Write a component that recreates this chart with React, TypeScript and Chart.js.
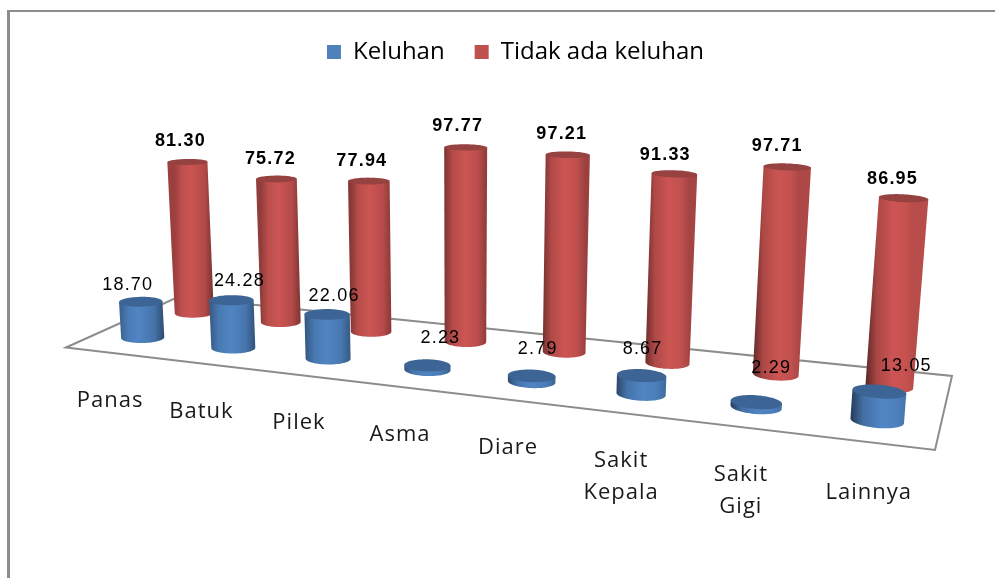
import React, { useEffect, useRef } from "react";
import { Chart, registerables } from "chart.js";

Chart.register(...registerables);

const categories = [["Panas"], ["Batuk"], ["Pilek"], ["Asma"], ["Diare"], ["Sakit", "Kepala"], ["Sakit", "Gigi"], ["Lainnya"]];
const keluhan = [18.7, 24.28, 22.06, 2.23, 2.79, 8.67, 2.29, 13.05];
const tidakAdaKeluhan = [81.3, 75.72, 77.94, 97.77, 97.21, 91.33, 97.71, 86.95];

// label placement relative to each cylinder's top, in pixels
const blueLabelDx = [-13, 8, 7, 13, 6, 1, 15, 27];
const blueLabelDy = [-17, -19, -18, -27, -27, -26, -34, -25];
const redLabelDx = [-7, -6, -7, -8, -6, -9, -10, -11];
const redLabelDy = [-21, -20, -20, -21, -21, -19, -21, -19];
// fine placement of the category labels, in pixels
const categoryDx = [-4, -6, -6, -7, -6, -5, -3, 1];
const categoryDy = [5, 4, 2, 0, -1, -3, -4, -3];

// floor quad in the picture: front-left, front-right, back-right, back-left
const FLOOR = [[66, 347.5], [935, 450], [952, 376], [178, 297]];
const VERT_VP = [458, 6080];
const VERT_S = -0.00034;

function homography() {
  const [[x0, y0], [x1, y1], [x2, y2], [x3, y3]] = FLOOR;
  const dx1 = x1 - x2, dx2 = x3 - x2, sx = x0 - x1 + x2 - x3;
  const dy1 = y1 - y2, dy2 = y3 - y2, sy = y0 - y1 + y2 - y3;
  const den = dx1 * dy2 - dx2 * dy1;
  const g = (sx * dy2 - dx2 * sy) / den;
  const h = (dx1 * sy - sx * dy1) / den;
  return {
    a: x1 - x0 + g * x1, b: x3 - x0 + h * x3, c: x0,
    d: y1 - y0 + g * y1, e: y3 - y0 + h * y3, f: y0,
    g, h,
  };
}
const H = homography();

function project(u: number, d: number, v: number): [number, number] {
  const w = H.g * u + H.h * d + 1 + v * VERT_S;
  const X = H.a * u + H.b * d + H.c + v * VERT_S * VERT_VP[0];
  const Y = H.d * u + H.e * d + H.f + v * VERT_S * VERT_VP[1];
  return [X / w, Y / w];
}

const lerp = (a: number, b: number, t: number) => a + (b - a) * t;
const shade = (c: number[], k: number) => `rgb(${Math.round(c[0] * k)},${Math.round(c[1] * k)},${Math.round(c[2] * k)})`;

const N = 72;
function cylinder(ctx: CanvasRenderingContext2D, u: number, d: number, v: number, ru: number, rd: number, rgb: number[], cap: string) {
  const ring = (h: number) => {
    const pts: [number, number][] = [];
    for (let i = 0; i < N; i++) {
      const t = (i / N) * Math.PI * 2;
      pts.push(project(u + ru * Math.cos(t), d + rd * Math.sin(t), h));
    }
    return pts;
  };
  const bot = ring(0);
  const top = ring(v);
  const extreme = (pts: [number, number][], sign: number) => {
    let best = 0;
    pts.forEach((p, i) => { if (sign * p[0] > sign * pts[best][0]) best = i; });
    return best;
  };
  const iL = extreme(bot, -1);
  const iR = extreme(bot, 1);
  const tL = extreme(top, -1);
  const tR = extreme(top, 1);
  const kL = lerp(0.78, 0.42, u);
  const kR = lerp(0.55, 0.92, u);
  const peak = lerp(0.4, 0.6, u);
  const grad = ctx.createLinearGradient(bot[iL][0], 0, bot[iR][0], 0);
  grad.addColorStop(0, shade(rgb, kL));
  grad.addColorStop(peak * 0.4, shade(rgb, lerp(kL, 1, 0.7)));
  grad.addColorStop(peak, shade(rgb, 1));
  grad.addColorStop(peak + (1 - peak) * 0.6, shade(rgb, lerp(1, kR, 0.3)));
  grad.addColorStop(1, shade(rgb, kR));
  ctx.beginPath();
  ctx.moveTo(top[tL][0], top[tL][1]);
  ctx.lineTo(bot[iL][0], bot[iL][1]);
  for (let i = iL; i !== iR; i = (i + 1) % N) ctx.lineTo(bot[i][0], bot[i][1]);
  ctx.lineTo(bot[iR][0], bot[iR][1]);
  ctx.lineTo(top[tR][0], top[tR][1]);
  ctx.closePath();
  ctx.fillStyle = grad;
  ctx.fill();
  ctx.beginPath();
  top.forEach((p, i) => (i ? ctx.lineTo(p[0], p[1]) : ctx.moveTo(p[0], p[1])));
  ctx.closePath();
  ctx.fillStyle = cap;
  ctx.fill();
  return project(u, d, v);
}

const RED = [204, 85, 83];
const BLUE = [80, 133, 196];
const RED_D = 0.75, BLUE_D = 0.27;

const scene = {
  id: "scene",
  beforeDatasetsDraw(chart: any) {
    const ctx: CanvasRenderingContext2D = chart.ctx;
    const area = chart.chartArea;
    ctx.save();
    // outer frame
    ctx.fillStyle = "#8c8c8c";
    ctx.fillRect(7, 10, 3, 568);
    ctx.fillRect(7, 10, 988, 2);
    // floor
    ctx.strokeStyle = "#8c8c8c";
    ctx.fillStyle = "#ffffff";
    ctx.lineWidth = 2;
    ctx.beginPath();
    FLOOR.forEach((p, i) => (i ? ctx.lineTo(p[0], p[1]) : ctx.moveTo(p[0], p[1])));
    ctx.closePath();
    ctx.fill();
    ctx.stroke();

    const metaBlue = chart.getDatasetMeta(0);
    const metaRed = chart.getDatasetMeta(1);
    const params = (el: any) => ({
      u: (el.x - area.left) / area.width,
      v: ((el.base - el.y) / area.height) * 100,
    });
    const labels: [string, number, number, boolean][] = [];
    metaRed.data.forEach((el: any, i: number) => {
      const { u, v } = params(el);
      const t = cylinder(ctx, u, RED_D, v, 0.0255, 0.09, RED, "#954240");
      labels.push([tidakAdaKeluhan[i].toFixed(2), t[0] + redLabelDx[i], t[1] + redLabelDy[i], true]);
    });
    metaBlue.data.forEach((el: any, i: number) => {
      const { u, v } = params(el);
      const t = cylinder(ctx, u, BLUE_D, v, 0.0268, 0.09, BLUE, "#3c6494");
      labels.push([keluhan[i].toFixed(2), t[0] + blueLabelDx[i], t[1] + blueLabelDy[i], false]);
    });
    // category labels hang below the front edge of the floor
    ctx.fillStyle = "#1a1a1a";
    ctx.textAlign = "center";
    ctx.textBaseline = "middle";
    ctx.font = "22px 'Open Sans'";
    (ctx as any).letterSpacing = "1px";
    metaBlue.data.forEach((el: any, i: number) => {
      const { u } = params(el);
      const x = project(u, BLUE_D, 0)[0] - lerp(30, 8, u) + categoryDx[i];
      const y = project(u, 0, 0)[1] + lerp(42, 54, u) + categoryDy[i];
      categories[i].forEach((line, k) => ctx.fillText(line, x, y + k * 32));
    });
    // value labels
    ctx.fillStyle = "#000";
    (ctx as any).letterSpacing = "1.2px";
    labels.forEach(([s, x, y, bold]) => {
      ctx.font = `${bold ? "bold " : ""}18px 'Liberation Sans'`;
      ctx.fillText(s, x, y);
    });
    ctx.restore();
  },
};

export default function App() {
  const ref = useRef<HTMLCanvasElement>(null);
  useEffect(() => {
    document.body.style.margin = "0";
    const chart = new Chart(ref.current!, {
      type: "bar",
      plugins: [scene],
      data: {
        labels: categories.map((c) => c.join(" ")),
        datasets: [
          { label: "Keluhan", data: keluhan, backgroundColor: "rgba(0,0,0,0)" },
          { label: "Tidak ada keluhan", data: tidakAdaKeluhan, backgroundColor: "rgba(0,0,0,0)" },
        ],
      },
      options: {
        responsive: false,
        animation: false,
        layout: { padding: { left: 36, top: 10 } },
        datasets: { bar: { grouped: false } },
        scales: {
          x: { display: false },
          y: { display: false, min: 0, max: 100 },
        },
        plugins: {
          tooltip: { enabled: false },
          legend: {
            position: "top",
            labels: {
              boxWidth: 14,
              boxHeight: 14,
              padding: 30,
              color: "#222",
              font: { family: "'Open Sans'", size: 24 },
              generateLabels: () => [
                { text: "Keluhan", fillStyle: "#4f81bd", strokeStyle: "#4f81bd", lineWidth: 0, datasetIndex: 0 },
                { text: "Tidak ada keluhan", fillStyle: "#c0504d", strokeStyle: "#c0504d", lineWidth: 0, datasetIndex: 1 },
              ],
            },
          },
        },
      } as any,
    });
    return () => chart.destroy();
  }, []);
  return <canvas ref={ref} width={995} height={578} style={{ display: "block" }} />;
}
